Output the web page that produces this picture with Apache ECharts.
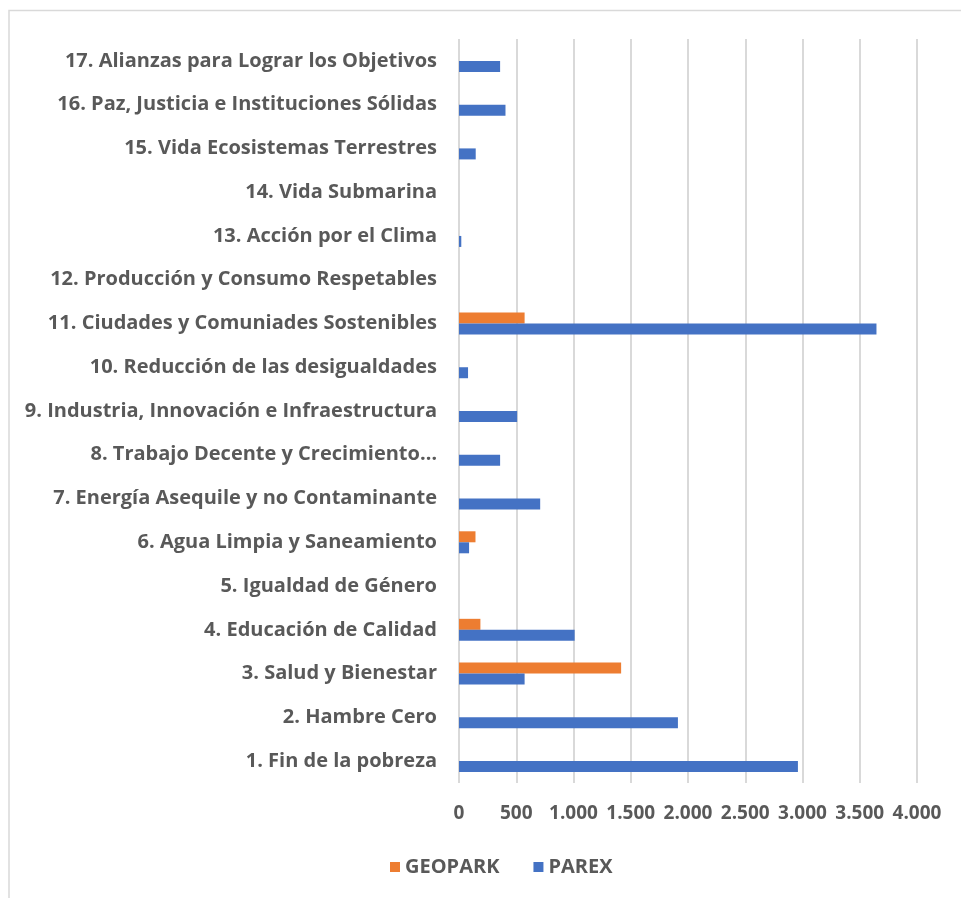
<!DOCTYPE html>
<html><head><meta charset="utf-8">
<script src="https://cdn.jsdelivr.net/npm/echarts@6/dist/echarts.min.js"></script>
<style>html,body{margin:0;padding:0;background:#fff}#c{width:961px;height:898px}</style>
</head><body><div id="c"></div>
<script>
const categories = [
  "1. Fin de la pobreza",
  "2. Hambre Cero",
  "3. Salud y Bienestar",
  "4. Educación de Calidad",
  "5. Igualdad de Género",
  "6. Agua Limpia y Saneamiento",
  "7. Energía Asequile y no Contaminante",
  "8. Trabajo Decente y Crecimiento…",
  "9. Industria, Innovación e Infraestructura",
  "10. Reducción de las desigualdades",
  "11. Ciudades y Comuniades Sostenibles",
  "12. Producción y Consumo Respetables",
  "13. Acción por el Clima",
  "14. Vida Submarina",
  "15. Vida Ecosistemas Terrestres",
  "16. Paz, Justicia e Instituciones Sólidas",
  "17. Alianzas para Lograr los Objetivos"
];
const parex   = [2960, 1912, 573, 1010, 0, 88, 709, 359, 508, 79, 3646, 0, 20, 0, 146, 406, 359];
const geopark = [0, 0, 1416, 187, 0, 144, 0, 0, 0, 0, 573, 0, 0, 0, 0, 0, 0];
const xTicks = { min: 0, max: 4000, interval: 500 };

const txt = '#595959';
const font = 'Open Sans';
const chart = echarts.init(document.getElementById('c'));
chart.setOption({
  animation: false,
  backgroundColor: '#fff',
  textStyle: { fontFamily: font },
  graphic: [{
    type: 'rect', shape: { x: 9, y: 10.5, width: 1000, height: 950 },
    style: { fill: 'none', stroke: '#d9d9d9', lineWidth: 1.5 }, silent: true
  }],
  grid: { left: 459, right: 44, top: 39, bottom: 115, containLabel: false },
  legend: {
    data: ['GEOPARK', 'PAREX'],
    bottom: 16, left: 385,
    itemWidth: 10, itemHeight: 10, itemGap: 34,
    icon: 'rect',
    textStyle: { color: txt, fontSize: 20, fontWeight: 'bold', fontFamily: font }
  },
  xAxis: {
    type: 'value', min: xTicks.min, max: xTicks.max, interval: xTicks.interval,
    axisLine: { show: false }, axisTick: { show: false },
    splitLine: { lineStyle: { color: '#d9d9d9', width: 2 } },
    axisLabel: {
      color: txt, fontSize: 19, fontWeight: 'bold', margin: 21, fontFamily: font,
      formatter: v => v.toString().replace(/\B(?=(\d{3})+(?!\d))/g, '.')
    }
  },
  yAxis: {
    type: 'category', data: categories,
    axisLine: { show: false }, axisTick: { show: false },
    axisLabel: { color: txt, fontSize: 20, fontWeight: 'bold', margin: 22, fontFamily: font }
  },
  series: [
    { name: 'GEOPARK', type: 'bar', data: geopark, barWidth: 11, barGap: '0%',
      itemStyle: { color: '#ED7D31' } },
    { name: 'PAREX', type: 'bar', data: parex, barWidth: 11, barGap: '0%',
      itemStyle: { color: '#4472C4' } }
  ]
});
</script></body></html>
